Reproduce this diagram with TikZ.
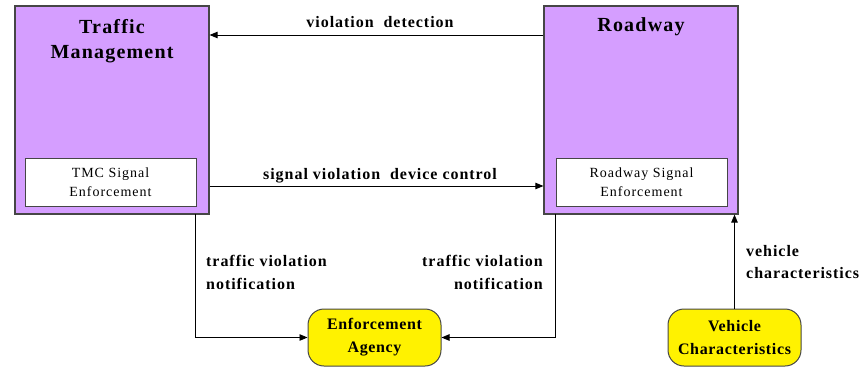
\documentclass[tikz,border=0pt]{standalone}
\usepackage{fontspec}
\setmainfont{Liberation Serif}
\usetikzlibrary{arrows.meta}
\definecolor{boxpurple}{RGB}{213,158,255}
\definecolor{edgegray}{RGB}{70,70,70}
\tikzset{
  bigbox/.style={draw=edgegray, line width=1.2pt, fill=boxpurple, minimum width=194pt, minimum height=208pt, inner sep=0pt},
  innerbox/.style={draw=edgegray, line width=1pt, fill=white, minimum width=171pt, minimum height=48pt, inner sep=0pt, align=center, font=\fontsize{14}{19}\selectfont\addfontfeatures{LetterSpace=7}},
  bigtitle/.style={font=\fontsize{20}{25}\selectfont\bfseries\addfontfeatures{LetterSpace=6}, align=center, inner sep=0pt},
  extbox/.style={draw=edgegray, line width=1pt, fill=yellow, rounded corners=16pt, minimum width=133pt, minimum height=57pt, inner sep=0pt, align=center, font=\fontsize{16}{23}\selectfont\bfseries\addfontfeatures{LetterSpace=4}},
  flowlabel/.style={font=\fontsize{16}{22.5}\selectfont\bfseries\addfontfeatures{LetterSpace=6}, inner sep=0pt},
  flow/.style={draw=black, line width=0.9pt, -{Triangle[length=8pt,width=6.5pt]}},
}
\begin{document}
\begin{tikzpicture}[x=1pt,y=-1pt]
\useasboundingbox (0,0) rectangle (864,367);
% boxes
\node[bigbox] (tm) at (112,110) {};
\node[bigbox] (rw) at (641,110) {};
\node[innerbox] (tmc) at (110.5,182) {TMC Signal\\Enforcement};
\node[innerbox] (rse) at (641.5,182) {Roadway Signal\\Enforcement};
\node[bigtitle] (tmt) at (112,41) {Traffic\\Management};
\node[bigtitle] (rwt) at (641,27) {Roadway};
\node[extbox] (ea) at (374.5,337.5) {Enforcement\\Agency};
\node[extbox] (vc) at (734.5,337.5) {Vehicle\\Characteristics};
% coordinates
\coordinate (vdR) at (rw.west |- 0,35);
\coordinate (vdL) at (tm.east |- 0,35);
\coordinate (svL) at (tm.east |- 0,186);
\coordinate (svR) at (rw.west |- 0,186);
\coordinate (tlTop) at (195,214);
\coordinate (tlBot) at (195,337.5);
\coordinate (trTop) at (555,214);
\coordinate (trBot) at (555,337.5);
% connectors
\draw[flow] (vdR) -- (vdL);
\draw[flow] (svL) -- (svR);
\draw[flow] (tlTop) -- (tlBot) -- (ea.west);
\draw[flow] (trTop) -- (trBot) -- (ea.east);
\draw[flow] (vc.north) -- (vc.north |- rw.south);
% labels
\node[flowlabel] (l1) at (380,22) {violation\ \ detection};
\node[flowlabel] (l2) at (380,176) {signal violation\ \ device control};
\node[flowlabel, anchor=west, align=left] (l3) at (206,272.5) {traffic violation\\notification};
\node[flowlabel, anchor=east, align=right] (l4) at (543,272.5) {traffic violation\\notification};
\node[flowlabel, anchor=west, align=left] (l5) at (746,262) {vehicle\\characteristics};
\end{tikzpicture}
\end{document}
